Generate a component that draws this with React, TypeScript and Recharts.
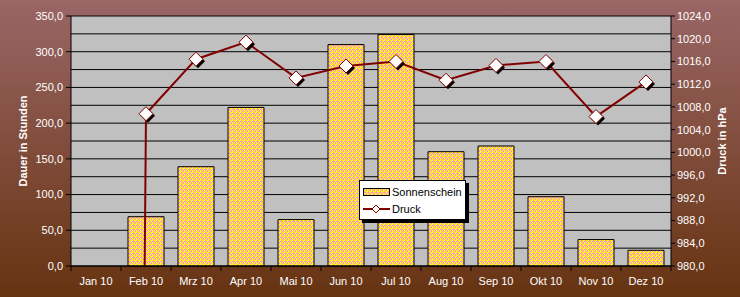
import { ComposedChart, Bar, Line, XAxis, YAxis, CartesianGrid, Legend } from "recharts"

const months = ["Jan 10", "Feb 10", "Mrz 10", "Apr 10", "Mai 10", "Jun 10", "Jul 10", "Aug 10", "Sep 10", "Okt 10", "Nov 10", "Dez 10"]
const sonnenschein = [0, 69, 139, 222, 65, 310, 324, 160, 168, 97, 37, 22]
const druck = [0, 1006.8, 1016.4, 1019.4, 1013.1, 1015.2, 1016.0, 1012.7, 1015.3, 1016.0, 1006.3, 1012.4]

const leftTicks = [0, 25, 50, 75, 100, 125, 150, 175, 200, 225, 250, 275, 300, 325, 350]
const rightTicks = [980, 984, 988, 992, 996, 1000, 1004, 1008, 1012, 1016, 1020, 1024]

const data = months.map((m, i) => ({ month: m, sonne: sonnenschein[i], druck: druck[i] }))

const fmt = (v: number) => v.toFixed(1).replace(".", ",")

function Diamond({ cx, cy, r = 7 }: { cx: number; cy: number; r?: number }) {
  const pts = (x: number, y: number) => `${x},${y - r} ${x + r},${y} ${x},${y + r} ${x - r},${y}`
  return (
    <g>
      <polygon points={pts(cx + 2, cy + 2)} fill="#000" />
      <polygon points={pts(cx, cy)} fill="#fff" stroke="#800000" strokeWidth={1} />
    </g>
  )
}

function MonthTick(props: any) {
  const { x, y, payload, index } = props
  const half = payload?.offset || 25
  return (
    <g>
      <line x1={x - half} y1={y} x2={x - half} y2={y + 5} stroke="#000" />
      {index === months.length - 1 && <line x1={x + half} y1={y} x2={x + half} y2={y + 5} stroke="#000" />}
      <text x={x} y={y + 19} textAnchor="middle" fill="#fff" fontSize={11}>
        {payload.value}
      </text>
    </g>
  )
}

// only every second tick (the 50-steps) gets a label and a tick mark
function LeftTick(props: any) {
  const { x, y, payload } = props
  if (payload.value % 50 !== 0) return <g />
  return (
    <g>
      <line x1={x + 3} y1={y} x2={x + 8} y2={y} stroke="#000" />
      <text x={x} y={y} dy="0.355em" textAnchor="end" fill="#fff" fontSize={11}>
        {fmt(payload.value)}
      </text>
    </g>
  )
}

function LegendBox() {
  return (
    <div
      style={{
        background: "#fff",
        border: "1px solid #000",
        boxShadow: "3px 3px 0 #000",
        width: 107,
        height: 40,
        fontSize: 11,
        color: "#000",
        boxSizing: "border-box",
        padding: "3px 0 0 3px",
      }}
    >
      <div style={{ display: "flex", alignItems: "center", height: 16 }}>
        <svg width={29} height={10}>
          <rect x={0.5} y={1.5} width={26} height={7} fill="url(#dither)" stroke="#000" />
        </svg>
        <span>Sonnenschein</span>
      </div>
      <div style={{ display: "flex", alignItems: "center", height: 18 }}>
        <svg width={29} height={12}>
          <line x1={0} y1={6} x2={27} y2={6} stroke="#800000" strokeWidth={2} />
          <polygon points="13,2 17,6 13,10 9,6" fill="#fff" stroke="#800000" />
        </svg>
        <span>Druck</span>
      </div>
    </div>
  )
}

export default function App() {
  return (
    <div
      style={{
        position: "absolute",
        left: 0,
        top: 0,
        width: 740,
        height: 297,
        background: "linear-gradient(to bottom, #9a6666, #663311)",
        fontFamily: "'Liberation Sans', Arial, sans-serif",
      }}
    >
      <svg width={0} height={0} style={{ position: "absolute" }}>
        <defs>
          <pattern id="dither" width={4} height={4} patternUnits="userSpaceOnUse">
            <rect width={4} height={4} fill="#ffff00" />
            <rect x={1} y={0} width={1} height={3} fill="#ff99cc" />
            <rect x={0} y={1} width={3} height={1} fill="#ff99cc" />
            <rect x={3} y={2} width={1} height={2} fill="#ff99cc" />
            <rect x={2} y={3} width={1} height={1} fill="#ff99cc" />
          </pattern>
        </defs>
      </svg>
      <ComposedChart width={740} height={297} data={data} margin={{ top: 16, right: 0, bottom: 0, left: 0 }}>
        <CartesianGrid yAxisId="left" vertical={false} stroke="#000" fill="#c0c0c0" />
        <XAxis
          dataKey="month"
          height={31}
          stroke="#000"
          tickLine={false}
          tickSize={0}
          tickMargin={0}
          tick={<MonthTick />}
          interval={0}
        />
        <YAxis
          yAxisId="left"
          width={71}
          domain={[0, 350]}
          ticks={leftTicks}
          interval={0}
          stroke="#000"
          tickLine={false}
          tickSize={5}
          tickMargin={3}
          tick={<LeftTick />}
          label={{ value: "Dauer in Stunden", angle: -90, position: "center", dx: -12, fill: "#fff", fontWeight: "bold", fontSize: 11 }}
        />
        <YAxis
          yAxisId="right"
          orientation="right"
          width={69}
          domain={[980, 1024]}
          allowDataOverflow
          ticks={rightTicks}
          interval={0}
          tickFormatter={fmt}
          stroke="#000"
          tickSize={4}
          tickMargin={2}
          tick={{ fill: "#fff", fontSize: 11 }}
          label={{ value: "Druck in hPa", angle: -90, position: "center", dx: 17, fill: "#fff", fontWeight: "bold", fontSize: 11 }}
        />
        <Bar yAxisId="left" dataKey="sonne" name="Sonnenschein" barSize={36} fill="url(#dither)" stroke="#000" strokeWidth={1} isAnimationActive={false} />
        <Line
          yAxisId="right"
          dataKey="druck"
          name="Druck"
          stroke="#800000"
          strokeWidth={2}
          isAnimationActive={false}
          dot={(p: any) => (p.payload.druck > 0 ? <Diamond key={p.index} cx={p.cx} cy={p.cy} /> : <g key={p.index} />)}
          activeDot={false}
        />
        <Legend
          layout="horizontal"
          verticalAlign="middle"
          align="center"
          content={() => <LegendBox />}
          wrapperStyle={{ left: 359, top: 180, width: 112, height: 44 }}
        />
      </ComposedChart>
    </div>
  )
}
